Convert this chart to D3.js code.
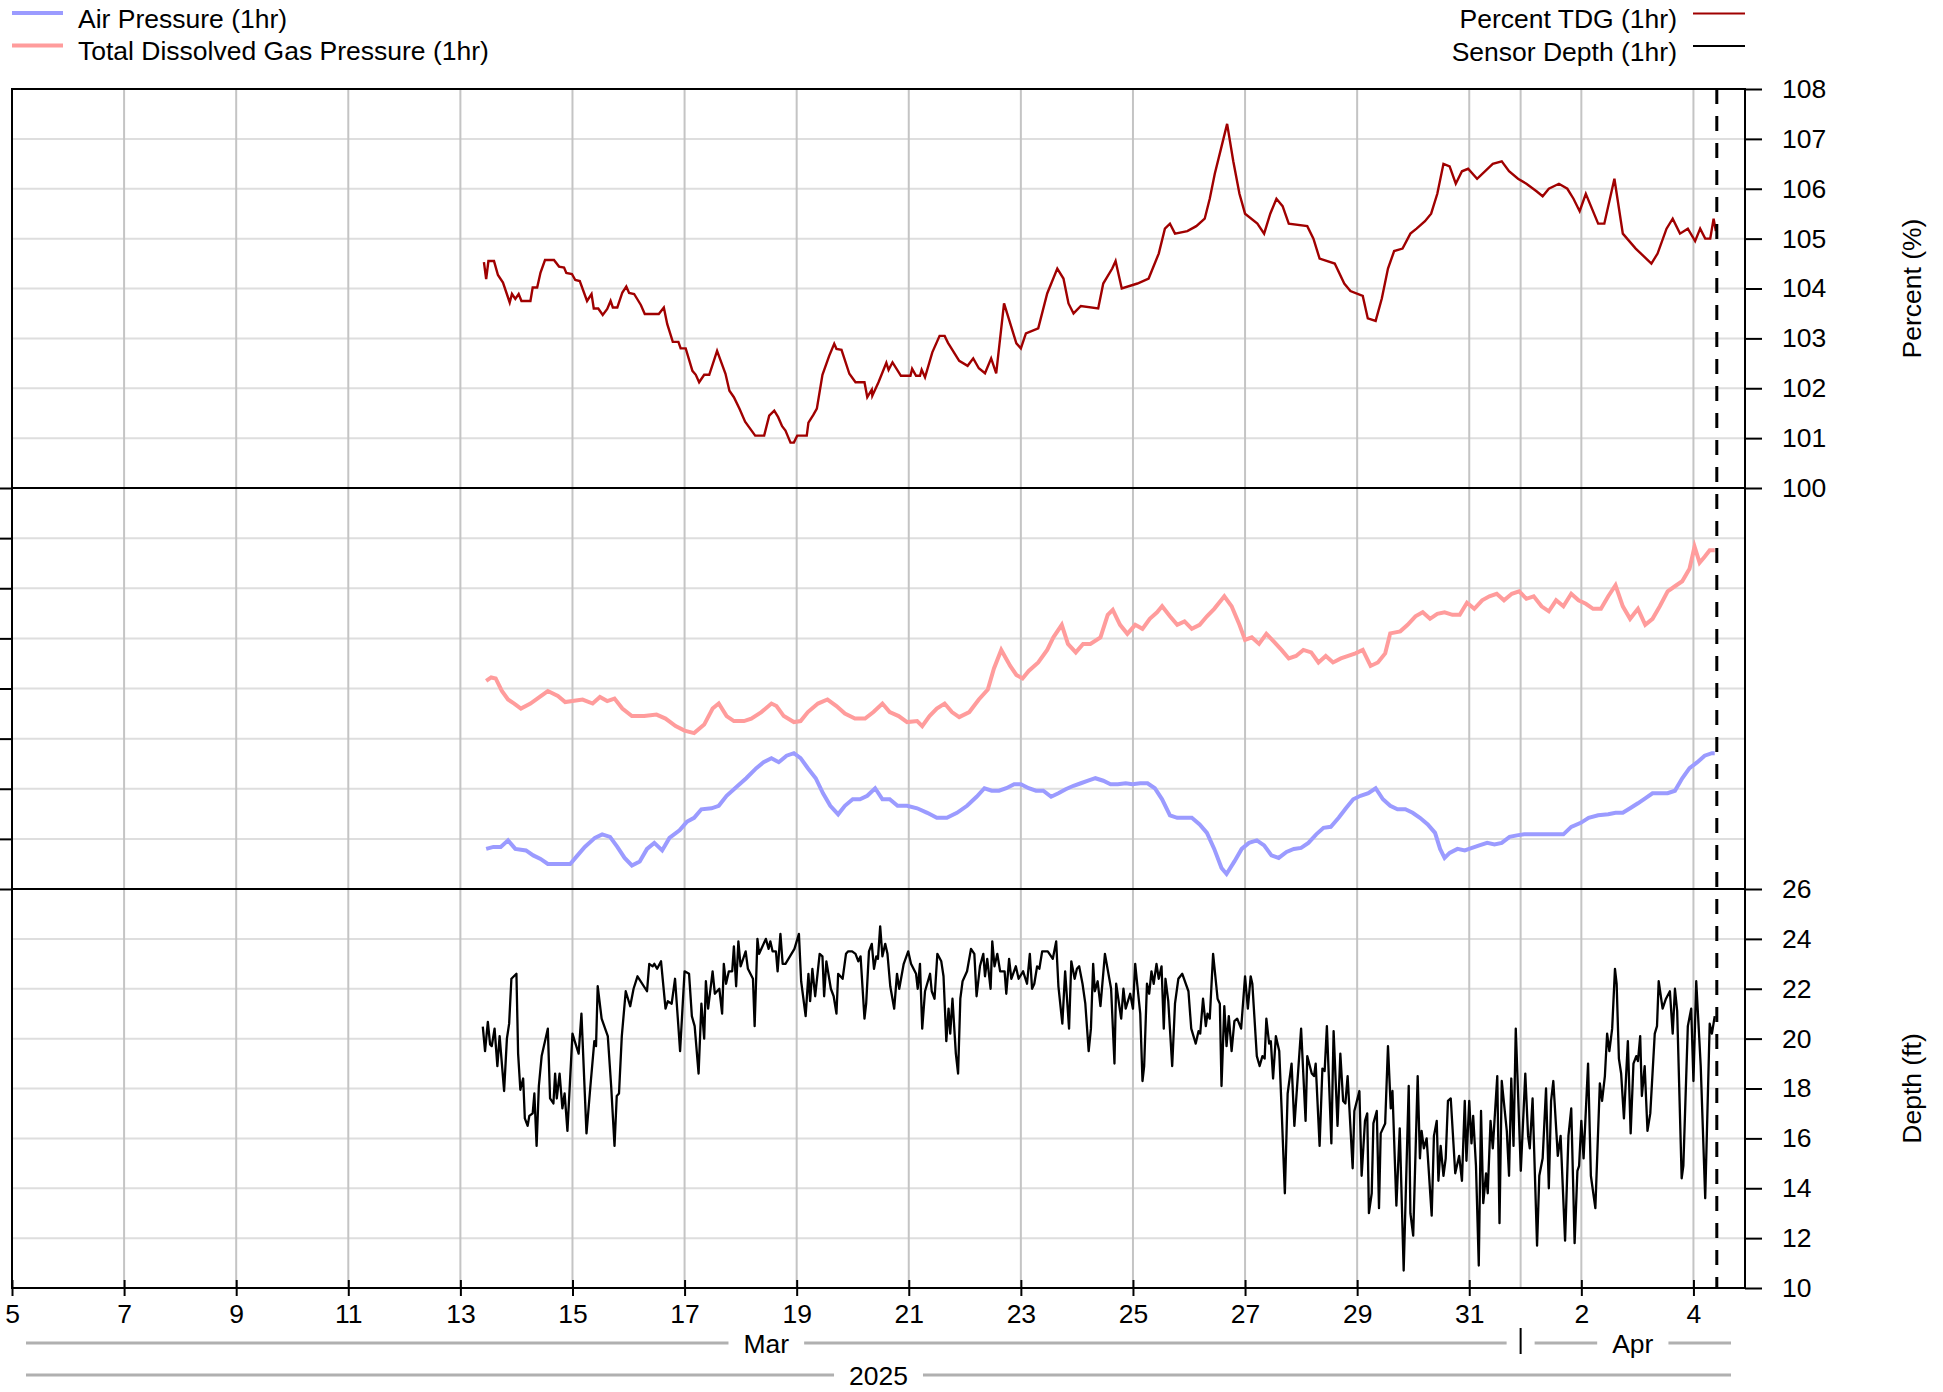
<!DOCTYPE html>
<html>
<head>
<meta charset="utf-8">
<script src="https://cdn.jsdelivr.net/npm/d3@7"></script>
<style>
    body { margin: 0; background: #fff; }
    svg text { font-family: "Liberation Sans", Arial, sans-serif; fill: #000; }
</style>
</head>
<body>
<svg id="chart"></svg>
<script>
// times are decimal March days (32 = Apr 1)
const percentTdg = [[13.42,104.53],[13.46,104.19],[13.5,104.55],[13.6,104.55],[13.67,104.27],[13.76,104.12],[13.88,103.72],[13.92,103.89],[13.98,103.79],[14.04,103.89],[14.09,103.75],[14.25,103.75],[14.29,104.02],[14.37,104.02],[14.43,104.32],[14.51,104.57],[14.67,104.57],[14.76,104.44],[14.85,104.42],[14.89,104.31],[14.99,104.29],[15.05,104.17],[15.13,104.15],[15.26,103.75],[15.34,103.89],[15.38,103.6],[15.46,103.6],[15.54,103.47],[15.62,103.59],[15.68,103.75],[15.72,103.62],[15.8,103.62],[15.89,103.92],[15.96,104.04],[16.01,103.91],[16.1,103.89],[16.22,103.67],[16.29,103.49],[16.54,103.49],[16.63,103.62],[16.69,103.29],[16.79,102.93],[16.89,102.93],[16.93,102.8],[17.02,102.8],[17.14,102.35],[17.2,102.27],[17.26,102.12],[17.35,102.27],[17.44,102.27],[17.58,102.75],[17.73,102.29],[17.8,101.95],[17.88,101.82],[17.98,101.59],[18.08,101.33],[18.26,101.05],[18.42,101.05],[18.51,101.45],[18.6,101.55],[18.67,101.42],[18.74,101.24],[18.8,101.15],[18.89,100.91],[18.95,100.91],[19.01,101.05],[19.18,101.05],[19.21,101.31],[19.3,101.47],[19.36,101.59],[19.46,102.27],[19.58,102.65],[19.67,102.89],[19.71,102.79],[19.8,102.77],[19.94,102.29],[20.05,102.12],[20.21,102.12],[20.26,101.82],[20.34,101.97],[20.35,101.85],[20.46,102.12],[20.6,102.51],[20.64,102.37],[20.71,102.52],[20.86,102.25],[21.03,102.25],[21.06,102.39],[21.13,102.25],[21.2,102.25],[21.23,102.37],[21.29,102.22],[21.42,102.72],[21.55,103.05],[21.64,103.05],[21.7,102.91],[21.9,102.55],[22.05,102.45],[22.15,102.6],[22.25,102.4],[22.36,102.3],[22.47,102.6],[22.56,102.3],[22.7,103.7],[22.81,103.3],[22.92,102.9],[23.0,102.8],[23.09,103.1],[23.31,103.2],[23.47,103.9],[23.65,104.4],[23.76,104.2],[23.85,103.7],[23.94,103.5],[24.07,103.65],[24.38,103.6],[24.47,104.1],[24.63,104.4],[24.69,104.55],[24.8,104.0],[25.08,104.1],[25.28,104.2],[25.46,104.7],[25.57,105.2],[25.66,105.3],[25.75,105.1],[25.97,105.15],[26.13,105.25],[26.28,105.4],[26.37,105.8],[26.46,106.3],[26.57,106.8],[26.68,107.3],[26.79,106.55],[26.9,105.9],[27.0,105.5],[27.22,105.3],[27.34,105.1],[27.45,105.5],[27.56,105.8],[27.67,105.65],[27.78,105.3],[28.11,105.25],[28.22,105.0],[28.33,104.6],[28.6,104.5],[28.77,104.1],[28.88,103.95],[29.1,103.85],[29.19,103.4],[29.33,103.35],[29.44,103.8],[29.55,104.4],[29.66,104.75],[29.81,104.8],[29.95,105.1],[30.06,105.2],[30.21,105.35],[30.32,105.5],[30.43,105.9],[30.54,106.5],[30.65,106.45],[30.76,106.1],[30.87,106.35],[30.98,106.4],[31.14,106.2],[31.42,106.5],[31.58,106.55],[31.71,106.35],[31.87,106.2],[32.02,106.1],[32.2,105.95],[32.31,105.85],[32.42,106.0],[32.6,106.1],[32.75,106.0],[32.86,105.8],[32.97,105.55],[33.08,105.9],[33.3,105.3],[33.41,105.3],[33.59,106.2],[33.74,105.1],[33.97,104.8],[34.25,104.5],[34.36,104.7],[34.52,105.2],[34.63,105.4],[34.76,105.1],[34.9,105.2],[35.03,104.95],[35.12,105.2],[35.21,105.0],[35.3,105.0],[35.36,105.4],[35.4,105.15]];

const tdgPressure = [[13.46,761.5],[13.55,762.2],[13.63,762.0],[13.74,759.5],[13.85,757.8],[13.96,757.0],[14.08,756.0],[14.25,757.0],[14.41,758.3],[14.56,759.5],[14.74,758.5],[14.87,757.3],[15.0,757.5],[15.18,757.8],[15.36,757.0],[15.49,758.3],[15.62,757.5],[15.75,758.0],[15.89,756.0],[16.06,754.5],[16.28,754.5],[16.5,754.8],[16.66,754.0],[16.84,752.5],[17.0,751.6],[17.17,751.1],[17.35,752.8],[17.5,756.0],[17.61,757.0],[17.75,754.5],[17.88,753.5],[18.06,753.5],[18.19,754.0],[18.37,755.3],[18.55,757.0],[18.64,756.5],[18.77,754.5],[18.95,753.3],[19.07,753.5],[19.2,755.3],[19.38,757.0],[19.55,757.8],[19.71,756.5],[19.86,755.0],[20.04,754.0],[20.22,754.0],[20.37,755.3],[20.53,757.0],[20.66,755.3],[20.82,754.5],[20.97,753.3],[21.15,753.5],[21.24,752.5],[21.37,754.5],[21.5,756.0],[21.64,757.0],[21.77,755.3],[21.9,754.3],[22.08,755.3],[22.25,757.8],[22.41,759.8],[22.52,764.0],[22.65,767.7],[22.81,764.5],[22.92,762.7],[23.03,762.0],[23.14,763.5],[23.31,765.2],[23.47,767.7],[23.58,770.2],[23.73,772.7],[23.84,768.9],[23.98,767.2],[24.11,768.9],[24.24,768.9],[24.42,770.2],[24.55,774.7],[24.64,775.7],[24.77,772.7],[24.9,770.9],[25.04,772.7],[25.17,771.9],[25.3,773.9],[25.43,775.2],[25.52,776.4],[25.66,774.4],[25.79,772.7],[25.92,773.4],[26.05,771.9],[26.19,772.7],[26.32,774.4],[26.45,775.9],[26.63,778.4],[26.76,776.4],[26.9,772.7],[27.0,769.7],[27.12,770.2],[27.25,768.9],[27.38,770.9],[27.51,769.4],[27.65,767.7],[27.78,766.0],[27.91,766.5],[28.04,767.7],[28.18,767.2],[28.31,765.2],[28.44,766.5],[28.57,765.2],[28.71,766.0],[28.84,766.5],[28.97,767.0],[29.1,767.7],[29.24,764.5],[29.37,765.2],[29.5,767.0],[29.59,771.0],[29.77,771.4],[29.9,772.7],[30.04,774.4],[30.17,775.2],[30.3,773.9],[30.43,774.9],[30.56,775.2],[30.7,774.7],[30.83,774.7],[30.96,777.1],[31.09,775.9],[31.23,777.6],[31.36,778.4],[31.49,778.9],[31.62,777.6],[31.76,778.9],[31.89,779.4],[32.02,777.9],[32.15,778.4],[32.29,776.4],[32.42,775.4],[32.55,777.6],[32.68,776.4],[32.82,778.9],[32.95,777.6],[33.08,776.9],[33.21,775.9],[33.35,775.9],[33.48,778.4],[33.61,780.6],[33.74,776.4],[33.87,773.9],[34.01,775.9],[34.14,772.7],[34.27,773.9],[34.4,776.4],[34.54,779.4],[34.67,780.4],[34.8,781.4],[34.93,783.9],[35.02,788.3],[35.11,785.1],[35.2,786.3],[35.29,787.6],[35.38,787.6]];

const airPressure = [[13.46,728.0],[13.59,728.4],[13.72,728.4],[13.85,729.7],[13.98,728.0],[14.17,727.7],[14.3,726.7],[14.43,726.0],[14.56,725.0],[14.74,725.0],[14.96,725.0],[15.09,726.7],[15.22,728.4],[15.4,730.2],[15.53,730.9],[15.67,730.4],[15.8,728.4],[15.93,726.2],[16.06,724.7],[16.2,725.5],[16.33,728.0],[16.46,729.2],[16.6,727.7],[16.73,730.2],[16.91,731.7],[17.04,733.4],[17.17,734.2],[17.3,735.9],[17.48,736.1],[17.61,736.6],[17.75,738.6],[17.93,740.4],[18.1,742.1],[18.28,744.1],[18.41,745.3],[18.55,746.1],[18.68,745.3],[18.82,746.6],[18.95,747.1],[19.07,746.1],[19.2,744.1],[19.34,742.1],[19.47,739.1],[19.6,736.6],[19.74,734.9],[19.86,736.6],[20.0,737.9],[20.13,737.9],[20.26,738.6],[20.4,740.1],[20.53,737.9],[20.66,737.9],[20.8,736.6],[20.97,736.6],[21.15,736.1],[21.33,735.2],[21.5,734.2],[21.68,734.2],[21.86,735.2],[22.04,736.6],[22.21,738.4],[22.35,740.1],[22.48,739.6],[22.61,739.6],[22.74,740.1],[22.88,740.9],[23.0,740.9],[23.14,740.1],[23.27,739.6],[23.4,739.6],[23.54,738.4],[23.67,739.1],[23.8,739.9],[23.94,740.6],[24.07,741.1],[24.2,741.6],[24.33,742.1],[24.47,741.6],[24.6,740.9],[24.73,740.9],[24.87,741.1],[24.99,740.9],[25.13,741.1],[25.26,741.1],[25.39,740.1],[25.52,737.9],[25.66,734.7],[25.79,734.2],[25.92,734.2],[26.05,734.2],[26.19,732.9],[26.32,731.2],[26.45,728.0],[26.58,724.2],[26.67,723.0],[26.81,725.5],[26.94,728.0],[27.07,729.2],[27.21,729.7],[27.34,728.7],[27.47,726.7],[27.6,726.2],[27.74,727.4],[27.87,728.0],[28.0,728.2],[28.13,729.2],[28.27,730.9],[28.4,732.2],[28.53,732.4],[28.67,734.2],[28.8,736.1],[28.93,737.9],[29.06,738.6],[29.2,739.1],[29.33,740.1],[29.46,737.9],[29.59,736.6],[29.72,735.9],[29.86,735.9],[29.99,735.2],[30.12,734.2],[30.26,732.9],[30.39,731.2],[30.48,728.0],[30.56,726.2],[30.65,727.2],[30.79,728.0],[30.92,727.7],[31.05,728.2],[31.18,728.7],[31.32,729.2],[31.45,728.9],[31.58,729.2],[31.72,730.4],[31.85,730.7],[31.98,730.9],[32.2,730.9],[32.42,730.9],[32.68,730.9],[32.82,732.4],[32.99,733.2],[33.13,734.2],[33.3,734.7],[33.48,734.9],[33.61,735.2],[33.74,735.2],[33.87,736.1],[34.01,737.1],[34.14,738.1],[34.27,739.1],[34.4,739.1],[34.54,739.1],[34.67,739.6],[34.8,742.1],[34.93,744.1],[35.07,745.3],[35.2,746.6],[35.33,747.1],[35.38,747.1]];

const sensorDepth = [[13.40,20.48],[13.44,19.5],[13.49,20.67],[13.53,19.77],[13.56,19.7],[13.61,20.4],[13.66,18.9],[13.70,20.1],[13.78,17.9],[13.83,20.0],[13.87,20.6],[13.91,22.4],[14.0,22.6],[14.03,19.4],[14.07,17.95],[14.12,18.4],[14.15,16.8],[14.2,16.5],[14.23,16.9],[14.29,17.0],[14.32,17.8],[14.36,15.7],[14.4,18.1],[14.45,19.3],[14.56,20.4],[14.6,17.6],[14.66,17.4],[14.69,18.6],[14.72,17.6],[14.77,18.6],[14.82,17.2],[14.86,17.8],[14.91,16.3],[15.0,20.2],[15.04,19.9],[15.11,19.4],[15.16,21.0],[15.25,16.2],[15.32,18.1],[15.39,19.9],[15.42,19.7],[15.45,22.1],[15.52,20.8],[15.63,20.1],[15.69,18.1],[15.75,15.7],[15.79,17.7],[15.83,17.8],[15.88,20.1],[15.95,21.9],[16.03,21.3],[16.09,22.0],[16.16,22.5],[16.33,21.9],[16.37,23.0],[16.43,22.9],[16.46,23.0],[16.51,22.8],[16.58,23.1],[16.66,21.2],[16.7,21.5],[16.77,21.4],[16.83,22.4],[16.92,19.5],[17.0,22.7],[17.08,22.6],[17.13,20.9],[17.18,20.5],[17.25,18.6],[17.3,21.4],[17.35,20.0],[17.38,22.3],[17.42,21.2],[17.5,22.7],[17.54,21.8],[17.62,22.0],[17.67,21.0],[17.7,23.0],[17.74,22.2],[17.79,22.7],[17.85,22.7],[17.88,23.7],[17.92,22.1],[17.96,23.9],[18.0,22.9],[18.09,23.5],[18.13,22.8],[18.22,22.4],[18.25,20.5],[18.3,24.0],[18.33,23.4],[18.45,24.0],[18.5,23.6],[18.53,23.9],[18.57,23.5],[18.63,23.5],[18.66,22.7],[18.71,24.2],[18.75,23.0],[18.8,23.0],[18.96,23.6],[19.04,24.2],[19.08,22.3],[19.16,20.9],[19.21,22.6],[19.24,21.5],[19.28,22.8],[19.33,21.7],[19.41,23.4],[19.46,23.3],[19.49,21.7],[19.53,23.1],[19.61,22.0],[19.66,21.7],[19.71,21.0],[19.74,22.6],[19.82,22.4],[19.88,23.4],[19.92,23.5],[19.99,23.5],[20.05,23.4],[20.1,23.1],[20.14,23.3],[20.21,20.8],[20.24,21.4],[20.29,23.5],[20.34,23.8],[20.38,22.8],[20.42,23.3],[20.45,23.2],[20.49,24.5],[20.53,23.3],[20.58,23.8],[20.62,23.4],[20.67,22.1],[20.74,21.2],[20.79,22.6],[20.83,22.0],[20.91,23.0],[20.99,23.5],[21.04,23.0],[21.13,22.6],[21.16,22.0],[21.2,23.0],[21.24,20.4],[21.29,21.9],[21.38,22.6],[21.41,21.9],[21.46,21.6],[21.51,23.4],[21.58,23.1],[21.62,22.5],[21.67,19.9],[21.71,21.2],[21.74,20.2],[21.78,21.6],[21.84,19.4],[21.88,18.6],[21.92,21.6],[21.96,22.3],[22.04,22.7],[22.11,23.6],[22.17,23.4],[22.21,21.7],[22.27,22.9],[22.33,23.4],[22.36,22.5],[22.4,23.2],[22.46,22.0],[22.49,23.9],[22.53,22.9],[22.58,23.4],[22.63,22.7],[22.71,22.7],[22.74,21.8],[22.79,23.2],[22.83,22.4],[22.91,22.9],[22.96,22.4],[23.04,22.7],[23.11,22.2],[23.16,23.4],[23.2,22.0],[23.24,22.2],[23.29,22.9],[23.33,22.8],[23.38,23.5],[23.43,23.5],[23.48,23.5],[23.57,23.2],[23.63,23.9],[23.67,22.1],[23.74,20.6],[23.79,22.7],[23.86,20.4],[23.9,23.1],[23.96,22.4],[24.0,22.8],[24.04,22.9],[24.1,22.2],[24.15,21.4],[24.21,19.5],[24.25,20.4],[24.29,23.0],[24.32,21.9],[24.37,22.3],[24.42,21.3],[24.5,23.4],[24.61,22.0],[24.67,19.0],[24.7,22.2],[24.79,20.8],[24.83,22.0],[24.87,21.2],[24.95,21.8],[25.0,21.2],[25.04,23.0],[25.08,22.1],[25.13,21.0],[25.17,18.3],[25.2,18.9],[25.25,22.2],[25.29,21.8],[25.33,22.7],[25.37,22.2],[25.42,23.0],[25.46,22.4],[25.51,22.9],[25.55,20.4],[25.58,22.4],[25.63,21.5],[25.7,18.9],[25.75,21.4],[25.81,22.4],[25.88,22.6],[25.99,21.9],[26.04,20.4],[26.12,19.8],[26.17,20.3],[26.2,20.2],[26.25,21.6],[26.3,20.5],[26.33,21.0],[26.37,20.8],[26.43,23.4],[26.51,21.6],[26.55,21.4],[26.58,18.1],[26.63,21.3],[26.67,19.7],[26.71,20.9],[26.76,19.5],[26.81,20.7],[26.86,20.8],[26.93,20.4],[27.0,22.5],[27.05,21.2],[27.1,22.5],[27.13,22.2],[27.21,19.3],[27.26,18.9],[27.31,19.3],[27.35,19.2],[27.38,20.8],[27.43,19.8],[27.46,19.9],[27.5,18.4],[27.55,20.1],[27.61,19.5],[27.65,17.3],[27.71,13.8],[27.76,17.8],[27.83,19.0],[27.88,16.5],[28.0,20.4],[28.08,16.7],[28.11,19.3],[28.19,18.6],[28.23,18.5],[28.26,19.0],[28.33,15.7],[28.38,18.8],[28.42,18.7],[28.46,20.5],[28.54,15.8],[28.58,20.3],[28.65,16.5],[28.7,19.4],[28.75,17.5],[28.79,17.4],[28.83,18.5],[28.92,14.8],[28.95,17.1],[29.04,17.9],[29.08,14.5],[29.14,16.7],[29.18,17.0],[29.21,13.0],[29.26,13.8],[29.29,16.6],[29.35,17.1],[29.39,13.2],[29.42,16.2],[29.5,16.6],[29.55,19.7],[29.6,17.2],[29.63,17.9],[29.7,13.3],[29.76,16.4],[29.83,10.7],[29.92,18.1],[29.95,13.0],[30.0,12.1],[30.08,18.5],[30.12,15.2],[30.15,16.3],[30.19,15.6],[30.24,16.0],[30.33,12.9],[30.37,16.1],[30.42,16.7],[30.45,14.3],[30.49,15.7],[30.54,14.5],[30.58,15.2],[30.62,17.5],[30.67,17.6],[30.75,14.6],[30.82,15.3],[30.87,14.3],[30.92,17.5],[30.95,15.1],[31.0,17.5],[31.04,15.8],[31.07,16.9],[31.12,14.9],[31.17,10.9],[31.21,17.1],[31.25,13.4],[31.3,14.6],[31.33,13.8],[31.38,16.7],[31.42,15.6],[31.5,18.5],[31.54,12.6],[31.58,18.3],[31.67,16.3],[31.71,14.5],[31.75,18.4],[31.79,15.7],[31.83,20.4],[31.92,14.7],[32.0,18.6],[32.05,16.1],[32.08,15.6],[32.13,17.6],[32.21,11.7],[32.25,14.5],[32.31,15.2],[32.37,18.0],[32.42,14.0],[32.46,17.5],[32.5,18.3],[32.58,15.3],[32.63,16.1],[32.71,11.9],[32.77,16.1],[32.82,17.2],[32.88,11.8],[32.93,14.7],[32.96,14.9],[33.0,16.7],[33.04,15.2],[33.12,19.0],[33.17,14.5],[33.25,13.2],[33.33,18.2],[33.37,17.5],[33.42,18.5],[33.46,20.2],[33.5,19.5],[33.55,20.4],[33.6,22.8],[33.63,22.2],[33.67,19.2],[33.71,18.6],[33.76,16.8],[33.83,19.9],[33.88,16.2],[33.93,19.0],[33.98,19.3],[34.01,19.1],[34.05,20.1],[34.08,17.7],[34.13,18.9],[34.18,16.3],[34.23,17.0],[34.31,20.2],[34.35,20.5],[34.38,22.3],[34.45,21.2],[34.51,21.6],[34.58,21.9],[34.63,20.2],[34.67,22.0],[34.71,21.1],[34.79,14.4],[34.82,14.9],[34.9,20.5],[34.96,21.2],[35.0,18.3],[35.05,22.3],[35.13,18.9],[35.21,13.6],[35.29,20.6],[35.33,20.2],[35.38,20.9]];

const pctTicks = d3.range(100, 109, 1)
const presTicks = d3.range(720, 801, 10)
const depthTicks = d3.range(10, 27, 2)
const nowMark = 35.417      // dashed "now" line
const monthShiftHours = -2  // month divider sits two hours before midnight

const left = 12, right = 1745;
const fontSize = 26.5;

const toDate = d => new Date(Date.UTC(2025, 2, 1) + (d - 1) * 864e5)

const svg = d3.select("#chart").attr("width", 1943).attr("height", 1392)

const xScale = d3.scaleUtc().domain([toDate(5), toDate(35.92)]).range([left, right])
const yPct = d3.scaleLinear().domain([100, 108]).range([488, 89])
const yPres = d3.scaleLinear().domain([720, 800]).range([889, 488])
const yDepth = d3.scaleLinear().domain([10, 26]).range([1288, 889])

const [x0, x1] = xScale.domain()
const dayTicks = d3.utcDay.range(x0, x1).filter((d, i) => i % 2 === 0)
const shift = d => d3.utcHour.offset(d, monthShiftHours)
const monthEdges = d3.utcMonth.range(d3.utcMonth.floor(x0), x1).map(shift).filter(d => d > x0)

// gridlines
const grid = svg.append("g")
const hGrid = (scale, values) => {
    grid.append("g").selectAll("line")
        .data(values)
        .join("line")
        .attr("x1", left).attr("x2", right)
        .attr("y1", d => scale(d)).attr("y2", d => scale(d))
        .attr("stroke", "#dedede").attr("stroke-width", 2)
}
hGrid(yPct, pctTicks.slice(1, -1))
hGrid(yPres, presTicks.slice(1, -1))
hGrid(yDepth, depthTicks.slice(1, -1))

grid.append("g").selectAll("line")
    .data(dayTicks.slice(1).concat(monthEdges))
    .join("line")
    .attr("x1", d => xScale(d)).attr("x2", d => xScale(d))
    .attr("y1", 89).attr("y2", 1288)
    .attr("stroke", "#c4c4c4").attr("stroke-width", 2)

// series
const line = (y) => d3.line()
    .x(d => xScale(toDate(d[0])))
    .y(d => y(d[1]))

svg.append("path").datum(airPressure)
    .attr("fill", "none").attr("stroke", "#9b9bff").attr("stroke-width", 4)
    .attr("d", line(yPres))
svg.append("path").datum(tdgPressure)
    .attr("fill", "none").attr("stroke", "#ff9c9c").attr("stroke-width", 4)
    .attr("d", line(yPres))
svg.append("path").datum(percentTdg)
    .attr("fill", "none").attr("stroke", "#a00000").attr("stroke-width", 2.4)
    .attr("d", line(yPct))
svg.append("path").datum(sensorDepth)
    .attr("fill", "none").attr("stroke", "#000").attr("stroke-width", 2.3)
    .attr("stroke-linejoin", "round")
    .attr("d", line(yDepth))

// frame and panel dividers
svg.append("rect")
    .attr("x", left).attr("y", 89)
    .attr("width", right - left).attr("height", 1288 - 89)
    .attr("fill", "none").attr("stroke", "#000").attr("stroke-width", 2)
svg.selectAll(".divider")
    .data([yPct(100), yPres(720)])
    .join("line")
    .attr("x1", left).attr("x2", right)
    .attr("y1", d => d).attr("y2", d => d)
    .attr("stroke", "#000").attr("stroke-width", 2)

svg.append("line")
    .attr("x1", xScale(toDate(nowMark))).attr("x2", xScale(toDate(nowMark)))
    .attr("y1", 89).attr("y2", 1288)
    .attr("stroke", "#000").attr("stroke-width", 3)
    .attr("stroke-dasharray", "15,12")

// axes
const styleAxis = g => {
    g.select(".domain").remove()
    g.selectAll("line").attr("stroke", "#000").attr("stroke-width", 2)
    g.selectAll("text").attr("font-size", fontSize).attr("font-family", null)
}

svg.append("g")
    .attr("transform", `translate(${right},0)`)
    .call(d3.axisRight(yPct).tickValues(pctTicks).tickSize(17).tickPadding(20).tickSizeOuter(0))
    .call(styleAxis)
svg.append("g")
    .attr("transform", `translate(${right},0)`)
    .call(d3.axisRight(yDepth).tickValues(depthTicks).tickSize(17).tickPadding(20).tickSizeOuter(0))
    .call(styleAxis)
svg.append("g")
    .attr("transform", `translate(${left},0)`)
    .call(d3.axisLeft(yPres).tickValues(presTicks).tickSize(12).tickFormat("").tickSizeOuter(0))
    .call(styleAxis)

svg.append("g")
    .attr("transform", "translate(0,1288)")
    .call(d3.axisBottom(xScale).tickValues(dayTicks).tickFormat(d3.utcFormat("%-d")).tickSize(8).tickPadding(8).tickSizeOuter(0))
    .call(styleAxis)
    .call(g => g.selectAll(".tick line").attr("y1", -8))

svg.append("text")
    .attr("transform", `translate(1912,${(89 + 488) / 2}) rotate(-90)`)
    .attr("text-anchor", "middle")
    .attr("dy", "0.35em")
    .attr("font-size", fontSize)
    .text("Percent (%)")
svg.append("text")
    .attr("transform", `translate(1912,${(889 + 1288) / 2}) rotate(-90)`)
    .attr("text-anchor", "middle")
    .attr("dy", "0.35em")
    .attr("font-size", fontSize)
    .text("Depth (ft)")

// month and year rows under the axis
const bracketRow = (segments, lineY, textY) => {
    const g = svg.append("g")
    segments.forEach(s => {
        const a = xScale(s.start), b = xScale(s.end)
        const mid = (a + b) / 2
        const label = g.append("text")
            .attr("x", mid).attr("y", textY)
            .attr("text-anchor", "middle")
            .attr("font-size", fontSize)
            .text(s.label)
        const half = label.node().getComputedTextLength() / 2 + 15
        g.append("line").attr("x1", a + 14).attr("x2", mid - half)
            .attr("y1", lineY).attr("y2", lineY)
            .attr("stroke", "#b0b0b0").attr("stroke-width", 3)
        g.append("line").attr("x1", mid + half).attr("x2", b - 14)
            .attr("y1", lineY).attr("y2", lineY)
            .attr("stroke", "#b0b0b0").attr("stroke-width", 3)
    })
}

const monthBounds = [x0].concat(monthEdges, [x1])
const monthSegments = d3.pairs(monthBounds).map(([s, e]) => ({
    start: s, end: e, label: d3.utcFormat("%b")(d3.utcHour.offset(s, 3))
}))
bracketRow(monthSegments, 1343, 1353)
bracketRow([{ start: x0, end: x1, label: d3.utcFormat("%Y")(x0) }], 1375, 1385)

svg.selectAll(".month-edge")
    .data(monthEdges)
    .join("line")
    .attr("x1", d => xScale(d)).attr("x2", d => xScale(d))
    .attr("y1", 1328).attr("y2", 1354)
    .attr("stroke", "#000").attr("stroke-width", 2)

// legends
const legendLeft = [
    { label: "Air Pressure (1hr)", color: "#9b9bff", width: 4 },
    { label: "Total Dissolved Gas Pressure (1hr)", color: "#ff9c9c", width: 4 }
]
const legendRight = [
    { label: "Percent TDG (1hr)", color: "#a00000", width: 2 },
    { label: "Sensor Depth (1hr)", color: "#000", width: 2 }
]

legendLeft.forEach((d, i) => {
    const y = 13 + i * 32.5
    svg.append("line").attr("x1", 12).attr("x2", 63).attr("y1", y).attr("y2", y)
        .attr("stroke", d.color).attr("stroke-width", d.width)
    svg.append("text").attr("x", 78).attr("y", y + 14.5).attr("font-size", fontSize).text(d.label)
})
legendRight.forEach((d, i) => {
    const y = 13.5 + i * 32.5
    svg.append("line").attr("x1", 1693).attr("x2", 1745).attr("y1", y).attr("y2", y)
        .attr("stroke", d.color).attr("stroke-width", d.width)
    svg.append("text").attr("x", 1677).attr("y", y + 14.5).attr("text-anchor", "end")
        .attr("font-size", fontSize).text(d.label)
})
</script>
</body>
</html>
